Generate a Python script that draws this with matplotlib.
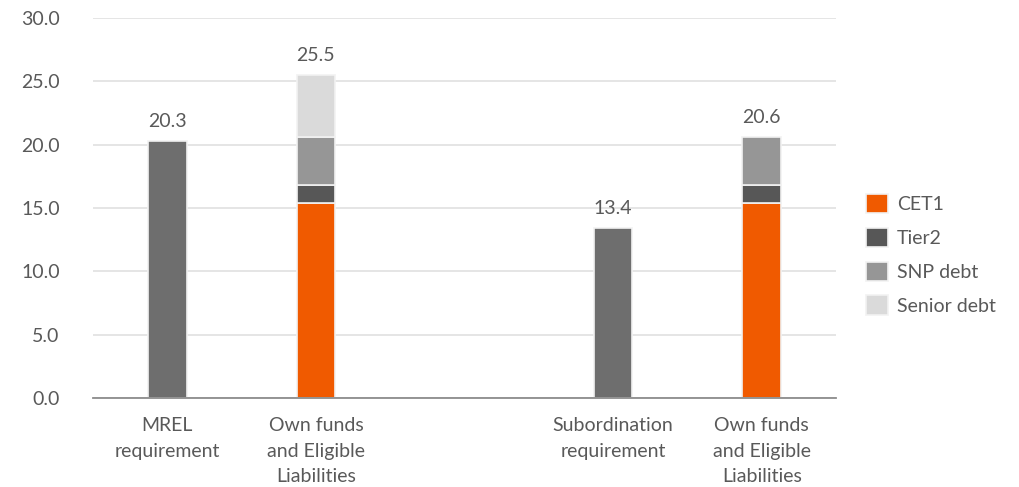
import matplotlib
matplotlib.use("Agg")
import matplotlib.pyplot as plt
from matplotlib.patches import Patch

plt.rcParams['font.family'] = ['Lato', 'DejaVu Sans']

# Category labels and their slot positions (slot 2 is left empty as a gap)
categories = ["MREL\nrequirement", "Own funds\nand Eligible\nLiabilities",
              "Subordination\nrequirement", "Own funds\nand Eligible\nLiabilities"]
positions = [0, 1, 3, 4]

# Requirement bars (single value)
requirement_values = [20.3, None, 13.4, None]

# Stacked components of own funds and eligible liabilities
cet1 = [None, 15.4, None, 15.4]
tier2 = [None, 1.4, None, 1.4]
snp_debt = [None, 3.8, None, 3.8]
senior_debt = [None, 4.9, None, 0.0]
totals = [20.3, 25.5, 13.4, 20.6]

series_names = ["CET1", "Tier2", "SNP debt", "Senior debt"]
series_colors = ["#F05A00", "#575757", "#969696", "#DADADA"]
req_color = "#6E6E6E"
text_color = "#595959"
fs = 14

fig = plt.figure(figsize=(10.20, 4.87), dpi=100)
ax = fig.add_axes([93 / 1020, 1 - 398 / 487, 743 / 1020, 380 / 487])

width = 0.26
edge = dict(edgecolor="#F2F2F2", linewidth=1.2)

for x, v in zip(positions, requirement_values):
    if v is not None:
        ax.bar(x, v, width=width, color=req_color, zorder=3, **edge)

stack = [cet1, tier2, snp_debt, senior_debt]
for i, x in enumerate(positions):
    if cet1[i] is None:
        continue
    bottom = 0.0
    for vals, col in zip(stack, series_colors):
        v = vals[i]
        if v:
            ax.bar(x, v, width=width, bottom=bottom, color=col, zorder=3, **edge)
            bottom += v

for x, t in zip(positions, totals):
    ax.annotate(f"{t:.1f}", (x, t), xytext=(0, 8), textcoords="offset points",
                ha="center", va="bottom", fontsize=fs, color=text_color)

ax.set_xlim(-0.5, 4.5)
ax.set_ylim(0, 30)
yt = [0, 5, 10, 15, 20, 25, 30]
ax.set_yticks(yt)
ax.set_yticklabels([f"{v:.1f}" for v in yt])
ax.set_xticks(positions)
ax.set_xticklabels(categories, linespacing=1.6)

ax.grid(axis="y", color="#E3E3E3", linewidth=1.3, zorder=0)
for s in ["top", "right", "left"]:
    ax.spines[s].set_visible(False)
ax.spines["bottom"].set_color("#8C8C8C")
ax.spines["bottom"].set_linewidth(1.3)
ax.spines["bottom"].set_zorder(4)
ax.tick_params(axis="both", length=0, labelsize=fs, labelcolor=text_color)
ax.tick_params(axis="y", pad=24)
ax.tick_params(axis="x", pad=14)

handles = [Patch(facecolor=c, edgecolor="#F2F2F2", linewidth=1.2) for c in series_colors]
fig.legend(handles, series_names, loc="upper left", bbox_to_anchor=(858 / 1020, 1 - 186 / 487),
           frameon=False, fontsize=fs, labelcolor=text_color, handlelength=1.15,
           handleheight=1.15, handletextpad=0.45, labelspacing=0.75, borderaxespad=0)

fig.savefig("out.png", dpi=100)
